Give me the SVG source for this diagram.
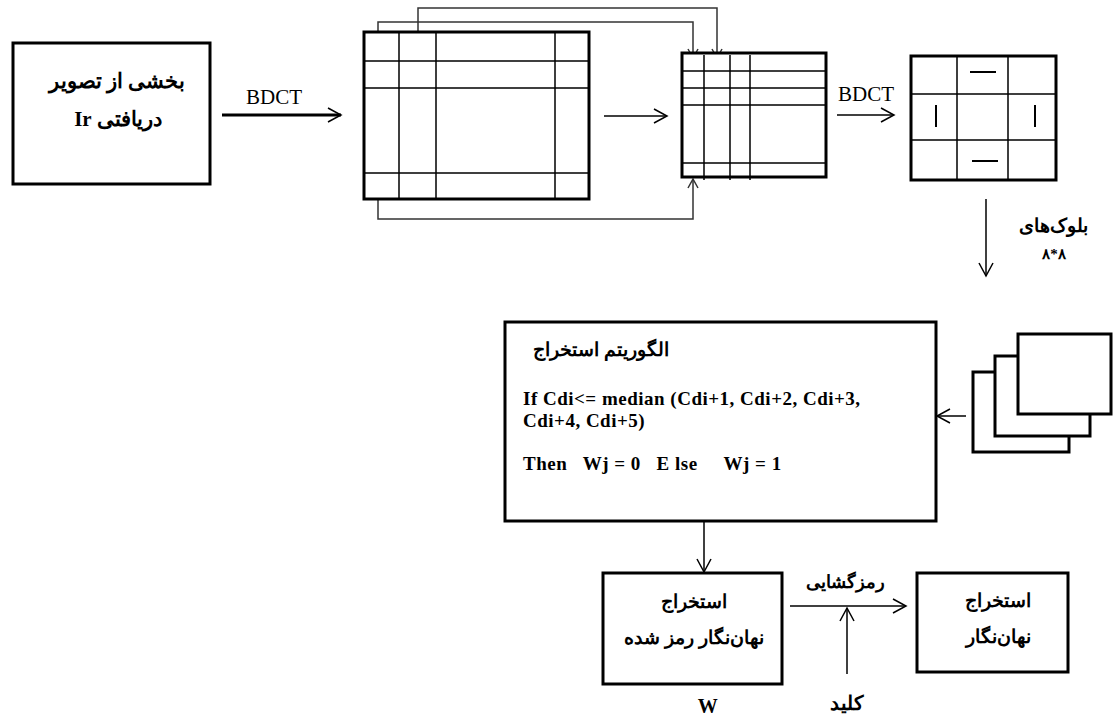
<svg xmlns="http://www.w3.org/2000/svg" width="1113" height="718" viewBox="0 0 1113 718">
<style>
.box{fill:#fff;stroke:#000;stroke-width:3}
.thin{fill:none;stroke:#000;stroke-width:1.5}
.grid{fill:none;stroke:#000;stroke-width:1.5}
.conn{fill:none;stroke:#333;stroke-width:1.5}
.fa{font-family:"Liberation Serif","Noto Sans",serif;font-weight:bold;fill:#000}
.lat{font-family:"Liberation Serif",serif;font-size:21px;fill:#000}
.code{font-family:"Liberation Serif",serif;font-weight:bold;font-size:19px;letter-spacing:0.5px;fill:#000}
</style>
<defs>
<marker id="arr" markerWidth="16" markerHeight="16" refX="14" refY="8" orient="auto" markerUnits="userSpaceOnUse">
<path d="M1,1 L14,8 L1,15" fill="none" stroke="#000" stroke-width="1.5"/>
</marker>
<marker id="arrS" markerWidth="12" markerHeight="12" refX="10" refY="6" orient="auto" markerUnits="userSpaceOnUse">
<path d="M1,1 L10,6 L1,11" fill="none" stroke="#333" stroke-width="1.5"/>
</marker>
</defs>

<g id="connectors">
<line x1="222" y1="115" x2="341" y2="115" stroke="#000" stroke-width="3" marker-end="url(#arr)"/>
<line x1="604" y1="116" x2="667" y2="116" class="thin" marker-end="url(#arr)"/>
<polyline points="378,43 378,22 693,22 693,58" class="conn" marker-end="url(#arrS)"/>
<polyline points="418,43 418,8 717,8 717,58" class="conn" marker-end="url(#arrS)"/>
<polyline points="378,183 378,219 693,219 693,179" class="conn" marker-end="url(#arrS)"/>
<line x1="837" y1="115" x2="894" y2="115" class="thin" marker-end="url(#arr)"/>
<line x1="986" y1="199" x2="986" y2="276" class="thin" marker-end="url(#arr)"/>
<line x1="966" y1="416" x2="937" y2="416" class="thin" marker-end="url(#arr)"/>
<line x1="704" y1="522" x2="704" y2="572" class="thin" marker-end="url(#arr)"/>
<line x1="790" y1="606" x2="906" y2="606" class="thin" marker-end="url(#arr)"/>
<line x1="847" y1="674" x2="847" y2="608" class="thin" marker-end="url(#arr)"/>
</g>

<g id="n-source">
<rect x="13" y="43" width="197" height="141" class="box"/>
<text x="117" y="88" text-anchor="middle" class="fa" style="font-size:21px" direction="rtl">بخشی از تصویر</text>
<text x="118" y="126" text-anchor="middle" class="fa" style="font-size:21px" direction="rtl">دریافتی Ir</text>
</g>
<text x="274" y="104" text-anchor="middle" class="lat">BDCT</text>

<g id="n-grid1">
<rect x="364" y="32" width="225" height="167" class="box"/>
<path d="M399,32V199M436,32V199M555,32V199M364,61H589M364,88H589M364,173H589" class="grid"/>
</g>

<g id="n-grid2">
<rect x="682" y="53" width="144" height="124" class="box"/>
<path d="M704,55V180M730,55V180M750,55V180M682,71H826M682,88H826M682,105H826M682,163H826" class="grid"/>
</g>
<text x="866" y="101" text-anchor="middle" class="lat">BDCT</text>

<g id="n-grid3">
<rect x="911" y="56" width="145" height="124" class="box"/>
<path d="M957,56V180M1008,56V180M911,94H1056M911,140H1056" class="grid"/>
<path d="M970,72H996M972,161H998M936,105V127M1035,105V127" fill="none" stroke="#000" stroke-width="2"/>
</g>
<text x="1053" y="232" text-anchor="middle" class="fa" style="font-size:19px" direction="rtl">بلوک‌های</text>
<text x="1054" y="259" text-anchor="middle" class="fa" style="font-size:15px;letter-spacing:2px">۸*۸</text>

<g id="n-algorithm">
<rect x="505" y="322" width="431" height="199" class="box"/>
<text x="601" y="356" text-anchor="middle" class="fa" style="font-size:19px" direction="rtl">الگوریتم استخراج</text>
<text x="523" y="405" class="code">If Cdi&lt;= median (Cdi+1, Cdi+2, Cdi+3,</text>
<text x="523" y="427" class="code">Cdi+4, Cdi+5)</text>
<text x="523" y="470" class="code" xml:space="preserve">Then   Wj = 0   E lse     Wj = 1</text>
</g>

<g id="n-blocks">
<rect x="973" y="372" width="96" height="80" class="box"/>
<rect x="995" y="356" width="95" height="80" class="box"/>
<rect x="1018" y="334" width="93" height="80" class="box"/>
</g>

<g id="n-encrypted">
<rect x="603" y="573" width="179" height="111" class="box"/>
<text x="694" y="608" text-anchor="middle" class="fa" style="font-size:18.5px" direction="rtl">استخراج</text>
<text x="694" y="644" text-anchor="middle" class="fa" style="font-size:19px" direction="rtl">نهان‌نگار رمز شده</text>
</g>
<text x="708" y="713" text-anchor="middle" class="code" style="font-size:20px">W</text>
<text x="845" y="588" text-anchor="middle" class="fa" style="font-size:18px" direction="rtl">رمزگشایی</text>
<text x="847" y="710" text-anchor="middle" class="fa" style="font-size:20px" direction="rtl">کلید</text>

<g id="n-watermark">
<rect x="917" y="573" width="151" height="99" class="box"/>
<text x="998" y="607" text-anchor="middle" class="fa" style="font-size:18.5px" direction="rtl">استخراج</text>
<text x="998" y="643" text-anchor="middle" class="fa" style="font-size:19px" direction="rtl">نهان‌نگار</text>
</g>
</svg>
